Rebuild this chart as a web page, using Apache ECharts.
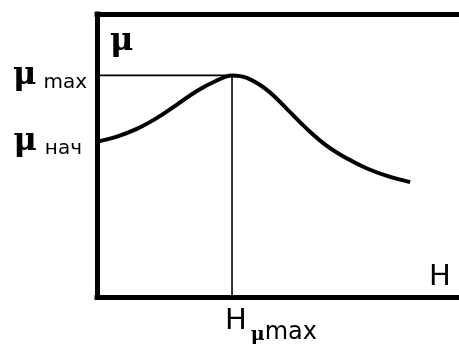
<!DOCTYPE html>
<html>
<head>
<meta charset="utf-8">
<script src="https://cdn.jsdelivr.net/npm/echarts@6/dist/echarts.min.js"></script>
<style>
  html, body { margin: 0; padding: 0; background: #fff; }
  #chart { width: 459px; height: 349px; }
</style>
</head>
<body>
<div id="chart"></div>
<script>
// Magnetic permeability μ versus field strength H (arbitrary units)
const fieldH = [0, 5.5, 11.0, 16.6, 22.1, 27.6, 33.1, 37.3, 41.4, 47.0, 52.5, 58.0, 63.5, 69.1, 74.6, 80.1, 86.5];
const permeability = [54.9, 56.7, 59.4, 63.3, 68.0, 72.8, 76.5, 78.3, 77.4, 73.1, 66.4, 59.4, 53.4, 48.9, 45.4, 42.8, 40.6];

// Characteristic points on the curve
const H_MU_MAX = 37.3;   // field at maximum permeability
const MU_MAX = 78.3;     // maximum permeability
const MU_NACH = 54.9;    // initial permeability

const curve = fieldH.map((h, i) => [h, permeability[i]]);
const guide = [[0, MU_MAX], [H_MU_MAX, MU_MAX], [H_MU_MAX, 0]];

const SERIF = 'DejaVu Serif';
const SANS = 'DejaVu Sans';
const frameLine = { color: '#000', width: 5, cap: 'square' };

const chart = echarts.init(document.getElementById('chart'), null, { renderer: 'canvas' });
chart.setOption({
  animation: false,
  backgroundColor: '#fff',
  grid: { left: 97, right: 0, top: 14, bottom: 52, containLabel: false },
  xAxis: [
    {
      type: 'value', min: 0, max: 100, position: 'bottom',
      axisLine: { show: true, onZero: false, lineStyle: frameLine },
      axisTick: { show: false },
      splitLine: { show: false },
      name: 'H',
      nameLocation: 'end',
      nameGap: -30,
      nameTextStyle: { fontFamily: SANS, fontSize: 29, color: '#000', verticalAlign: 'bottom', padding: [0, 0, 5, 0] },
      axisLabel: {
        customValues: [H_MU_MAX],
        margin: 10,
        formatter: () => '{pad|}{h|H}{mu|μ}{sub|max}',
        rich: {
          pad: { width: 78 },
          h: { fontFamily: SANS, fontSize: 29, color: '#000', verticalAlign: 'top' },
          mu: { fontFamily: SERIF, fontWeight: 'bold', fontSize: 19, color: '#000', padding: [18, 0, 0, 4] },
          sub: { fontFamily: SANS, fontSize: 24, color: '#000', padding: [14, 0, 0, 0] }
        }
      }
    },
    {
      type: 'value', min: 0, max: 100, position: 'top',
      axisLine: { show: true, onZero: false, lineStyle: frameLine },
      axisTick: { show: false },
      axisLabel: { show: false },
      splitLine: { show: false }
    }
  ],
  yAxis: {
    type: 'value', min: 0, max: 100,
    axisLine: { show: true, onZero: false, lineStyle: frameLine },
    axisTick: { show: false },
    splitLine: { show: false },
    name: 'μ',
    nameLocation: 'end',
    nameGap: -44,
    nameTextStyle: { fontFamily: SERIF, fontWeight: 'bold', fontSize: 32, color: '#000', align: 'left', verticalAlign: 'bottom', padding: [0, 0, 0, 13] },
    axisLabel: {
      customValues: [MU_NACH, MU_MAX],
      margin: 10,
      formatter: (v) => v === MU_MAX ? '{mu|μ}{sub|max}' : '{mu|μ}{subn|нач}',
      rich: {
        mu: { fontFamily: SERIF, fontWeight: 'bold', fontSize: 32, color: '#000' },
        sub: { fontFamily: SANS, fontSize: 20, color: '#000', padding: [14, 0, 0, 7] },
        subn: { fontFamily: SANS, fontSize: 20, color: '#000', padding: [14, 5, 0, 8] }
      }
    }
  },
  series: [
    {
      type: 'line',
      data: guide,
      showSymbol: false,
      lineStyle: { color: '#000', width: 1.6 },
      z: 1
    },
    {
      type: 'line',
      data: curve,
      smooth: 0.4,
      showSymbol: false,
      lineStyle: { color: '#000', width: 4 },
      z: 2
    }
  ]
});
</script>
</body>
</html>
